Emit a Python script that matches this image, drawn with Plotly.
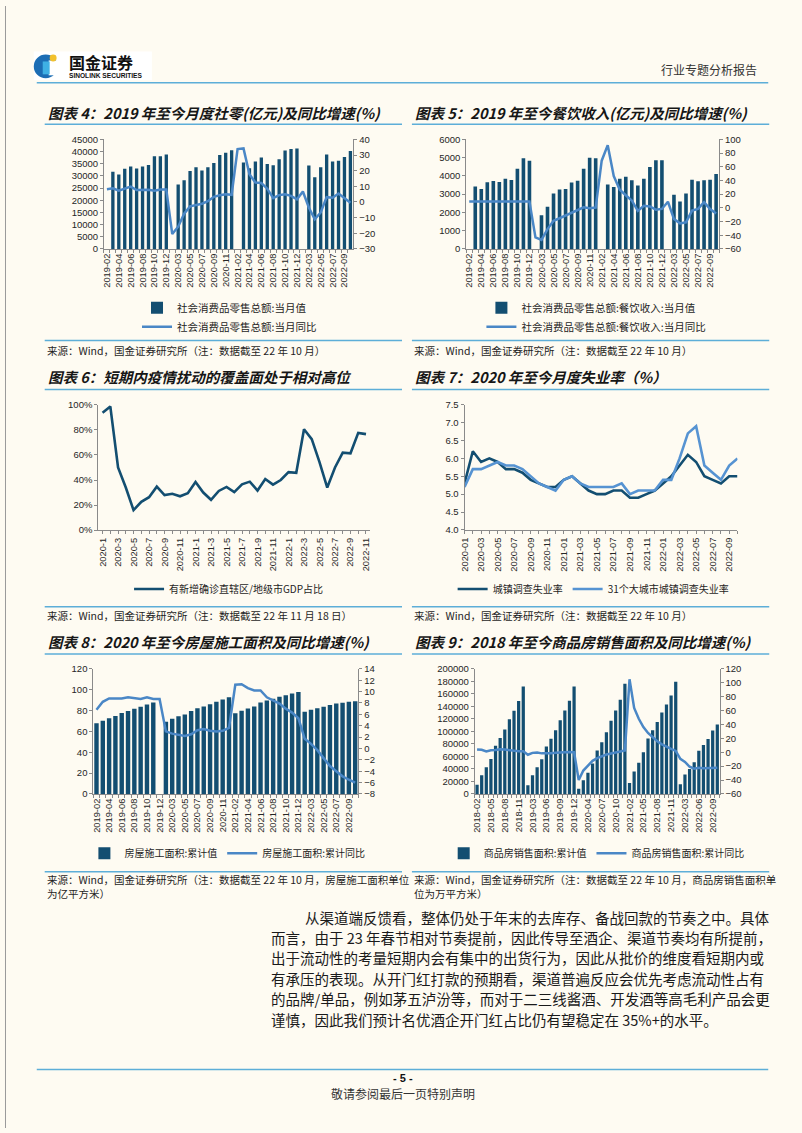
import plotly.graph_objects as go

W, H = 802, 1133
def X(p): return p / W
def Y(p): return 1 - p / H

BG = "#fefbf2"
NAVY = "#134e71"
BLUE = "#4a87c6"
LBLUE2 = "#5693d2"
LINEC = "#5daed8"
AXC = "#8a8a8a"
TXT = "#1e1e1e"
NUM = "Arial, 'Liberation Sans', sans-serif"
CJK = "'Noto Sans CJK SC', 'Noto Sans', sans-serif"

# ---------------- data ----------------
def ym(y, m0, m1, pad=True):
    return [f"{y}-{m:02d}" if pad else f"{y}-{m}" for m in range(m0, m1 + 1)]

# chart 4 / 5 / 8 categories (Jan merged into Feb)
cats_a = ym(2019, 2, 12) + ym(2020, 2, 12) + ym(2021, 2, 12) + ym(2022, 2, 10)
ticks_a = ["2019-02", "2019-04", "2019-06", "2019-08", "2019-10", "2019-12",
           "2020-03", "2020-05", "2020-07", "2020-09", "2020-11",
           "2021-02", "2021-04", "2021-06", "2021-08", "2021-10", "2021-12",
           "2022-03", "2022-05", "2022-07", "2022-09"]

retail_value = [None, 31726, 30586, 32956, 33878, 33073, 33896, 34495, 38104, 38094, 38777,
                None, 26450, 28178, 31973, 33526, 32203, 33571, 35295, 38576, 39514, 40566,
                None, 35484, 33153, 35945, 37586, 34925, 34395, 36833, 40454, 41043, 41269,
                None, 34233, 29483, 33547, 38742, 35870, 36258, 37745, 40271]
retail_yoy = [8.2, 8.7, 7.2, 8.6, 9.8, 7.6, 7.5, 7.8, 7.2, 8.0, 8.0,
              -20.5, -15.8, -7.5, -2.8, -1.8, -1.1, 0.5, 3.3, 4.3, 5.0, 4.6,
              33.8, 34.2, 17.7, 12.4, 12.1, 8.5, 2.5, 4.4, 4.9, 3.9, 1.7,
              6.7, -3.5, -11.1, -6.7, 3.1, 2.7, 5.4, 2.5, -0.5]

cater_value = [None, 3416, 3289, 3651, 3723, 3669, 3849, 3777, 4392, 4970, 4825,
               None, 1843, 2313, 3036, 3253, 3289, 3633, 3741, 4392, 4988, 4970,
               None, 3524, 3398, 3849, 3958, 3759, 3470, 3849, 4482, 4861, 4861,
               None, 2964, 2602, 3036, 3795, 3705, 3759, 3795, 4102]
cater_yoy = [9.4, 9.4, 9.4, 9.4, 9.4, 9.4, 9.4, 9.4, 9.4, 9.4, 9.4,
             -43.1, -46.8, -31.1, -18.9, -15.2, -11.0, -7.0, -2.9, 0.8, -0.6, 0.4,
             68.9, 91.6, 46.4, 26.6, 18.4, 10.8, -4.5, 3.1, 2.0, -2.7, -1.6,
             8.9, -16.4, -22.7, -21.1, -4.0, -1.5, 8.4, -1.7, -8.1]

# chart 6
cats_c = ym(2020, 1, 12, False) + ym(2021, 1, 12, False) + ym(2022, 1, 11, False)
ticks_c = ["2020-1", "2020-3", "2020-5", "2020-7", "2020-9", "2020-11",
           "2021-1", "2021-3", "2021-5", "2021-7", "2021-9", "2021-11",
           "2022-1", "2022-3", "2022-5", "2022-7", "2022-9", "2022-11"]
cover_share = [93.7, 98.7, 50.0, 34.0, 16.0, 22.6, 26.3, 34.7, 28.0, 29.0, 27.0, 29.5,
               38.4, 30.0, 24.2, 31.3, 34.5, 30.3, 36.6, 38.7, 31.6, 40.8, 36.3, 40.0,
               46.3, 45.8, 80.5, 72.6, 54.2, 34.0, 50.0, 61.8, 61.3, 77.6, 76.6]

# chart 7
cats_d = ym(2020, 1, 12) + ym(2021, 1, 12) + ym(2022, 1, 10)
ticks_d = ["2020-01", "2020-03", "2020-05", "2020-07", "2020-09", "2020-11",
           "2021-01", "2021-03", "2021-05", "2021-07", "2021-09", "2021-11",
           "2022-01", "2022-03", "2022-05", "2022-07", "2022-09"]
unemp_urban = [5.3, 6.2, 5.9, 6.0, 5.9, 5.7, 5.7, 5.6, 5.4, 5.3, 5.2, 5.2,
               5.4, 5.5, 5.3, 5.1, 5.0, 5.0, 5.1, 5.1, 4.9, 4.9, 5.0, 5.1,
               5.3, 5.5, 5.8, 6.1, 5.9, 5.5, 5.4, 5.3, 5.5, 5.5]
unemp_31 = [5.2, 5.7, 5.7, 5.8, 5.9, 5.8, 5.8, 5.7, 5.5, 5.3, 5.2, 5.1,
            5.4, 5.5, 5.3, 5.2, 5.2, 5.2, 5.2, 5.3, 5.0, 5.1, 5.1, 5.1,
            5.4, 5.4, 6.0, 6.7, 6.9, 5.8, 5.6, 5.4, 5.8, 6.0]

# chart 8
constr_value = [67.8, 70.3, 72.5, 74.7, 77.6, 79.5, 81.7, 83.6, 85.8, 87.7, None,
                69.3, 72.2, 74.4, 76.3, 79.5, 82.3, 83.9, 86.1, 88.3, 90.6, 92.8,
                77.3, 79.8, 82.0, 83.9, 87.7, 89.6, 91.2, 93.1, 94.7, 96.3, 97.8,
                78.8, 80.7, 82.3, 83.6, 85.2, 86.8, 87.4, 88.3, 88.9]
constr_yoy = [6.8, 8.2, 8.8, 8.8, 8.8, 9.0, 8.8, 8.7, 9.0, 8.7, 8.7,
              3.0, 2.6, 2.4, 2.2, 2.5, 3.2, 3.4, 3.1, 3.0, 3.1, 3.6,
              11.2, 11.3, 10.6, 10.2, 10.2, 9.0, 8.4, 7.9, 7.0, 6.3, 5.3,
              1.7, 0.8, -0.3, -1.7, -3.1, -4.0, -4.9, -5.5, -6.0]

# chart 9
cats_f = ym(2018, 2, 12) + ym(2019, 2, 12) + ym(2020, 2, 12) + ym(2021, 2, 12) + ym(2022, 2, 10)
ticks_f = ["2018-02", "2018-05", "2018-08", "2018-11", "2019-03", "2019-06", "2019-09",
           "2019-12", "2020-04", "2020-07", "2020-10", "2021-02", "2021-05", "2021-08",
           "2021-11", "2022-03", "2022-06", "2022-09"]
sales_value = [14714, 29862, 42609, 55764, 77143, 89623, 103021, 119499, 133044, 148604, 171654,
               14102, 29829, 42622, 55518, 75786, 88314, 101849, 117975, 133251, 148905, 171558,
               8475, 21978, 33973, 48703, 69404, 82678, 98486, 117073, 133294, 150579, 176086,
               17363, 36007, 49950, 66700, 88635, 101848, 115077, 130332, 143041, 157433, 179433,
               15703, 31046, 39768, 50738, 68923, 78178, 87890, 101422, 111179]
sales_yoy = [4.1, 3.6, 1.3, 2.9, 3.3, 4.2, 4.0, 2.9, 2.2, 1.4, 1.3,
             -3.6, -0.9, -0.3, -1.6, -1.8, -1.3, -0.6, -0.1, 0.1, 0.2, -0.1,
             -39.9, -26.3, -19.3, -12.3, -8.4, -5.8, -3.3, -1.8, 0.0, 1.3, 2.6,
             104.9, 63.8, 48.1, 36.3, 27.7, 21.5, 15.9, 11.3, 7.6, 4.8, 1.9,
             -9.6, -13.8, -20.9, -23.6, -22.2, -23.1, -23.0, -22.2, -22.3]

body_lines = [
    "从渠道端反馈看，整体仍处于年末的去库存、备战回款的节奏之中。具体",
    "而言，由于 23 年春节相对节奏提前，因此传导至酒企、渠道节奏均有所提前，",
    "出于流动性的考量短期内会有集中的出货行为，因此从批价的维度看短期内或",
    "有承压的表现。从开门红打款的预期看，渠道普遍反应会优先考虑流动性占有",
    "的品牌/单品，例如茅五泸汾等，而对于二三线酱酒、开发酒等高毛利产品会更",
    "谨慎，因此我们预计名优酒企开门红占比仍有望稳定在 35%+的水平。",
]

# ---------------- figure ----------------
fig = go.Figure()

def bar(x, y, xa, ya, name, leg, width):
    fig.add_trace(go.Bar(x=x, y=y, xaxis=xa, yaxis=ya, name=name, legend=leg,
                         marker=dict(color=NAVY, line=dict(width=0)), width=width))

def line(x, y, xa, ya, name, leg, color, w=2.5):
    fig.add_trace(go.Scatter(x=x, y=y, xaxis=xa, yaxis=ya, name=name, legend=leg,
                             mode="lines", line=dict(color=color, width=w)))

bar(cats_a, retail_value, "x", "y", "社会消费品零售总额:当月值", "legend", 0.56)
line(cats_a, retail_yoy, "x", "y2", "社会消费品零售总额:当月同比", "legend", BLUE)

bar(cats_a, cater_value, "x2", "y3", "社会消费品零售总额:餐饮收入:当月值", "legend2", 0.6)
line(cats_a, cater_yoy, "x2", "y4", "社会消费品零售总额:餐饮收入:当月同比", "legend2", BLUE)

line(cats_c, cover_share, "x3", "y5", "有新增确诊直辖区/地级市GDP占比", "legend3", NAVY, 2.6)

line(cats_d, unemp_urban, "x4", "y6", "城镇调查失业率", "legend4", NAVY, 2.6)
line(cats_d, unemp_31, "x4", "y6", "31个大城市城镇调查失业率", "legend4", LBLUE2, 2.6)

bar(cats_a, constr_value, "x5", "y7", "房屋施工面积:累计值", "legend5", 0.7)
line(cats_a, constr_yoy, "x5", "y8", "房屋施工面积:累计同比", "legend5", BLUE)

bar(cats_f, sales_value, "x6", "y9", "商品房销售面积:累计值", "legend6", 0.7)
line(cats_f, sales_yoy, "x6", "y10", "商品房销售面积:累计同比", "legend6", BLUE)

TF = dict(family=NUM, size=9.5, color="#262626")

def xax(p0, p1, anchor, cats, ticks, rng, boundaries=True):
    return dict(domain=[X(p0), X(p1)], anchor=anchor, type="category",
                categoryorder="array", categoryarray=cats, range=rng,
                tickmode="array", tickvals=cats,
                ticktext=[c if c in ticks else "" for c in cats],
                tickangle=-90, ticks="outside", ticklen=3, tickcolor=AXC,
                tickson="boundaries" if boundaries else "labels",
                showline=True, linecolor=AXC, linewidth=1, showgrid=False,
                zeroline=False, tickfont=dict(family=NUM, size=9.3, color="#262626"),
                fixedrange=True)

def yax(top, bottom, anchor, rng, dtick, fmt="d", suffix="", side="left", overlaying=None):
    d = dict(anchor=anchor, range=rng, tickmode="linear", tick0=rng[0], dtick=dtick,
             tickformat=fmt, ticksuffix=suffix, side=side, ticks="outside", ticklen=3,
             tickcolor=AXC, showline=True, linecolor=AXC, linewidth=1, showgrid=False,
             zeroline=False, tickfont=TF, fixedrange=True)
    if overlaying:
        d["overlaying"] = overlaying
    else:
        d["domain"] = [Y(bottom), Y(top)]
    return d

layout = dict(
    width=W, height=H, margin=dict(l=0, r=0, t=0, b=0),
    paper_bgcolor=BG, plot_bgcolor="rgba(0,0,0,0)", showlegend=True,
    barmode="overlay", hovermode=False,
    # chart 4
    xaxis=xax(99.7, 351, "y", cats_a, ticks_a, [-0.5, 41.5]),
    yaxis=yax(134.7, 245.3, "x", [0, 45000], 5000),
    yaxis2=yax(134.7, 245.3, "x", [-30, 40], 10, side="right", overlaying="y"),
    # chart 5
    xaxis2=xax(464.7, 719.5, "y3", cats_a, ticks_a, [-0.5, 41.5]),
    yaxis3=yax(134.7, 245.3, "x2", [0, 6000], 1000),
    yaxis4=yax(134.7, 245.3, "x2", [-60, 100], 20, side="right", overlaying="y3"),
    # chart 6
    xaxis3=xax(94, 368, "y5", cats_c, ticks_c, [-0.55, 34.55], boundaries=False),
    yaxis5=yax(402.7, 529.3, "x3", [0, 100], 20, suffix="%"),
    # chart 7
    xaxis4=xax(463, 738, "y6", cats_d, ticks_d, [0, 33], boundaries=False),
    yaxis6=yax(402.7, 529.0, "x4", [4, 7.5], 0.5, fmt=".1f"),
    # chart 8
    xaxis5=xax(89, 356, "y7", cats_a, ticks_a, [-0.5, 41.5]),
    yaxis7=yax(669.3, 795.7, "x5", [0, 120], 20),
    yaxis8=yax(669.3, 795.7, "x5", [-8, 14], 2, side="right", overlaying="y7"),
    # chart 9
    xaxis6=xax(473.3, 720, "y9", cats_f, ticks_f, [-0.5, 52.5]),
    yaxis9=yax(669.3, 795.7, "x6", [0, 200000], 20000),
    yaxis10=yax(669.3, 795.7, "x6", [-60, 120], 20, side="right", overlaying="y9"),
)

def leg(xp, yp, orient, size):
    return dict(x=X(xp), y=Y(yp), xanchor="left", yanchor="top", orientation=orient,
                bgcolor="rgba(0,0,0,0)", borderwidth=0, tracegroupgap=0,
                font=dict(family=CJK, size=size, color=TXT), traceorder="normal")

layout["legend"] = leg(133, 290, "v", 10.5)
layout["legend2"] = leg(480, 290, "v", 10.5)
layout["legend3"] = leg(125, 574, "v", 10)
layout["legend4"] = leg(451, 574, "h", 10)
layout["legend5"] = leg(80, 841, "h", 10)
layout["legend6"] = leg(442, 841, "h", 10)

fig.update_layout(**layout)

# ---------------- text & decorations ----------------
ann = []
shapes = []

def text(x, y, s, size, family=CJK, color=TXT, anchor="left", weight="normal", style="normal"):
    ann.append(dict(x=X(x), y=Y(y), xref="paper", yref="paper", text=s, showarrow=False,
                    xanchor=anchor, yanchor="middle",
                    font=dict(family=family, size=size, color=color, weight=weight, style=style)))

def hline(x0, x1, y, color=LINEC, w=1.5):
    shapes.append(dict(type="line", xref="paper", yref="paper", x0=X(x0), x1=X(x1),
                       y0=Y(y), y1=Y(y), line=dict(color=color, width=w)))

# page border (left)
shapes.append(dict(type="line", xref="paper", yref="paper", x0=X(0.5), x1=X(0.5), y0=0, y1=1,
                   line=dict(color="#9a9a9a", width=1)))

# header / logo
shapes.append(dict(type="rect", xref="paper", yref="paper", x0=X(29), x1=X(148), y0=Y(75), y1=Y(46),
                   fillcolor="#ffffff", line=dict(width=0)))
shapes.append(dict(type="circle", xref="paper", yref="paper", x0=X(29), x1=X(53), y0=Y(73), y1=Y(49),
                   fillcolor="#1c6db4", line=dict(width=0)))
shapes.append(dict(type="rect", xref="paper", yref="paper", x0=X(44), x1=X(54), y0=Y(70), y1=Y(55),
                   fillcolor="#ffffff", line=dict(width=0)))
shapes.append(dict(type="rect", xref="paper", yref="paper", x0=X(38), x1=X(45), y0=Y(69), y1=Y(56),
                   fillcolor="#3fb0e4", line=dict(width=0)))
shapes.append(dict(type="circle", xref="paper", yref="paper", x0=X(45), x1=X(52), y0=Y(56), y1=Y(49),
                   fillcolor="#f2c12e", line=dict(width=0)))
text(62, 57, "国金证券", 16, weight="bold", color="#111111")
text(62, 70, "SINOLINK SECURITIES", 6.6, family=NUM, weight="bold", color="#111111")
text(760, 64, "行业专题分析报告", 12, anchor="right", color="#333333")
hline(32, 769, 77.5, w=1.6)

# titles
titles = [
    (41, 108, "图表 4：2019 年至今月度社零(亿元)及同比增速(%)"),
    (411, 108, "图表 5：2019 年至今餐饮收入(亿元)及同比增速(%)"),
    (41, 374, "图表 6：短期内疫情扰动的覆盖面处于相对高位"),
    (411, 374, "图表 7：2020 年至今月度失业率（%）"),
    (41, 642, "图表 8：2020 年至今房屋施工面积及同比增速(%)"),
    (411, 642, "图表 9：2018 年至今商品房销售面积及同比增速(%)"),
]
for x, y, s in titles:
    text(x, y, s, 14.5, weight="bold", style="italic", color="#161616")

for y in (119.5, 387.3, 654.3):
    hline(40, 400, y)
    hline(410, 770, y)
for y in (337.7, 606.7, 874.3):
    hline(40, 400, y)
    hline(410, 770, y)

SRC = 10.5
text(40, 348, "来源：Wind，国金证券研究所（注：数据截至 22 年 10 月）", SRC)
text(410, 348, "来源：Wind，国金证券研究所（注：数据截至 22 年 10 月）", SRC)
text(40, 615.5, "来源：Wind，国金证券研究所（注：数据截至 22 年 11 月 18 日）", SRC)
text(410, 615.5, "来源：Wind，国金证券研究所（注：数据截至 22 年 10 月）", SRC)
text(40, 882.5, "来源：Wind，国金证券研究所（注：数据截至 22 年 10 月，房屋施工面积单位", SRC)
text(40, 896, "为亿平方米）", SRC)
text(410, 882.5, "来源：Wind，国金证券研究所（注：数据截至 22 年 10 月，商品房销售面积单", SRC)
text(410, 896, "位为万平方米）", SRC)

# body paragraph
for i, s in enumerate(body_lines):
    text(300 if i == 0 else 266, 920 + i * 20.6, s, 14.5, color="#1a1a1a")

# footer
hline(32, 769, 1074, w=1.6)
text(401, 1083, "- 5 -", 11, family=NUM, weight="bold", anchor="center", color="#111111")
text(401, 1098, "敬请参阅最后一页特别声明", 12, anchor="center", color="#333333")

fig.update_layout(annotations=ann, shapes=shapes)

fig.write_html("out.html", config={"displayModeBar": False},
               post_script="document.body.style.margin='0';document.body.style.overflow='hidden';document.body.style.background='#fefbf2';")
